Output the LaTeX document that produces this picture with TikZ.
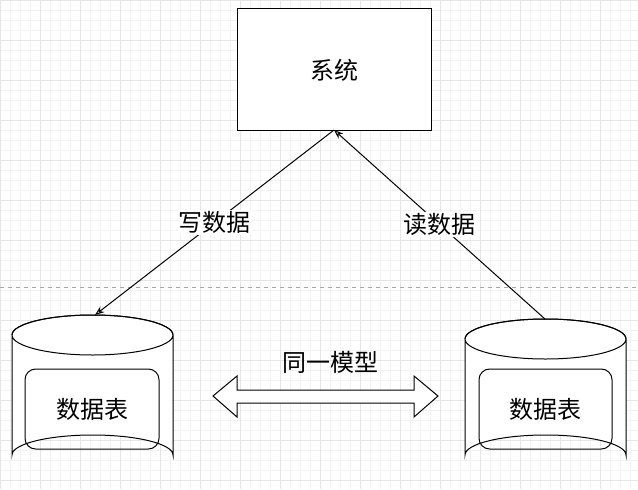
\documentclass[tikz,border=0pt]{standalone}
\usepackage{fontspec}
\setmainfont{Noto Sans CJK SC}
\usetikzlibrary{arrows.meta,shapes.arrows}
\tikzset{every picture/.style={line width=0.75pt}}
\tikzset{lbl/.style={inner sep=0.75pt,font=\fontsize{18}{21}\selectfont}}
\begin{document}
\begin{tikzpicture}[x=0.75pt,y=0.75pt,yscale=-1,xscale=1]
\useasboundingbox (0,0) rectangle (638,489);
%Grid
\fill[white] (0,0) rectangle (638,489);
\draw[line width=0.4pt,black!5,step=10*0.75pt] (0,0) grid (638,489);
\draw[line width=0.4pt,black!10,step=40*0.75pt] (0,0) grid (638,489);
%Dashed divider
\draw[black!35,dashed] (0,287) -- (638,287) ;

%System box
\draw[fill=white] (237,8) rectangle (431,130) ;
\node[lbl] (sys) at (334,70) {系统};
\coordinate (sysb) at (334,130);

%Left cylinder
\draw[fill=white] (12,335) -- (12,455) arc[start angle=180,end angle=360,x radius=80.5,y radius=20] -- (173,335) arc[start angle=0,end angle=-360,x radius=80.5,y radius=20] ;
\draw (12,335) arc[start angle=180,end angle=360,x radius=80.5,y radius=20] ;
\draw[rounded corners=8] (25,369) rectangle (159,449) ;
\node[lbl] (tblL) at (92,409) {数据表};
\coordinate (cylL) at (95,315);

%Right cylinder
\draw[fill=white] (465,339) -- (465,455) arc[start angle=180,end angle=360,x radius=80.5,y radius=20] -- (626,339) arc[start angle=0,end angle=-360,x radius=80.5,y radius=20] ;
\draw (465,339) arc[start angle=180,end angle=360,x radius=80.5,y radius=20] ;
\draw[rounded corners=8] (479,369) rectangle (612,449) ;
\node[lbl] (tblR) at (545,409) {数据表};
\coordinate (cylR) at (545,319);

%Arrows
\draw[-{Stealth[length=7pt,open,fill=white]}] (sysb) -- (cylL) node[midway,fill=white,lbl] {写数据} ;
\draw[-{Stealth[length=7pt,open,fill=white]}] (cylR) -- (sysb) node[midway,fill=white,lbl] {读数据} ;

%Double arrow
\draw[fill=white] (213,396) -- (237,376) -- (237,390) -- (414,390) -- (414,376) -- (438,396) -- (414,417) -- (414,403) -- (237,403) -- (237,417) -- cycle ;
\node[lbl] (same) at (330,362) {同一模型};
\end{tikzpicture}
\end{document}
